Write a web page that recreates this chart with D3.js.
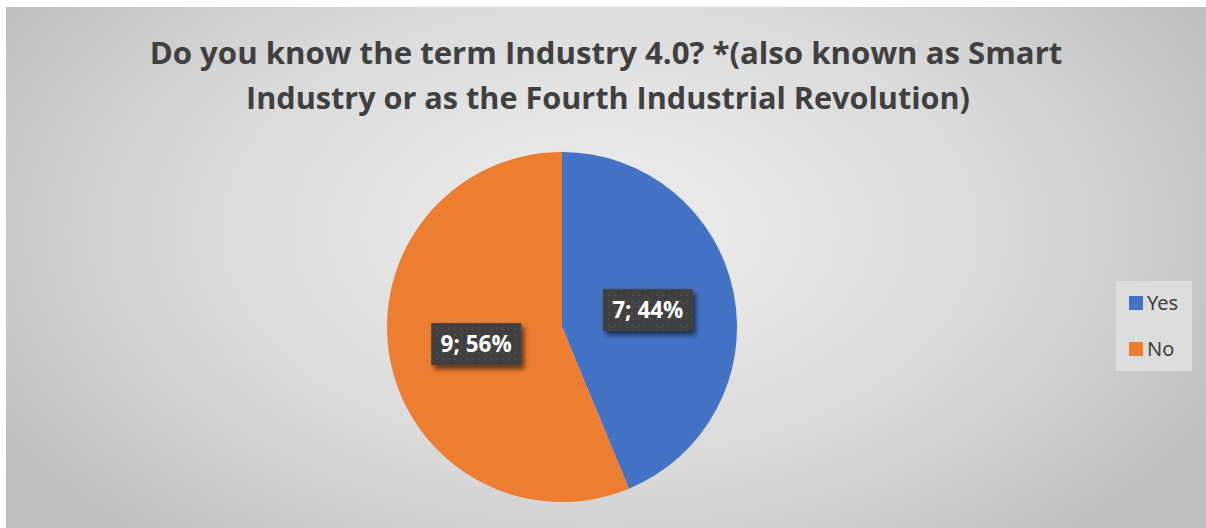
<!DOCTYPE html>
<html>
<head>
<meta charset="utf-8">
<script src="https://cdn.jsdelivr.net/npm/d3@7"></script>
<style>
  html, body { margin: 0; padding: 0; background: #ffffff; }
  svg { display: block; }
</style>
</head>
<body>
<svg id="chart" width="1206" height="528"></svg>
<script>
// Survey answers
const categories = ["Yes", "No"];
const counts = [7, 9];
const colors = ["#4472C4", "#ED7D31"];
const titleLines = [
  "Do you know the term Industry 4.0? *(also known as Smart",
  "Industry or as the Fourth Industrial Revolution)"
];

const W = 1206, H = 528;
const svg = d3.select("#chart");
const defs = svg.append("defs");

// Soft radial backdrop of the chart area
const bg = defs.append("radialGradient").attr("id", "bgGrad")
  .attr("gradientUnits", "userSpaceOnUse")
  .attr("cx", 600).attr("cy", 230).attr("r", 720)
  .attr("gradientTransform", "translate(600,230) scale(1,0.6) translate(-600,-230)");
bg.append("stop").attr("offset", "0%").attr("stop-color", "#efefef");
bg.append("stop").attr("offset", "55%").attr("stop-color", "#dadada");
bg.append("stop").attr("offset", "100%").attr("stop-color", "#bdbdbd");

// Dotted fill for the data label boxes
const pat = defs.append("pattern").attr("id", "dots")
  .attr("patternUnits", "userSpaceOnUse").attr("width", 6).attr("height", 6);
pat.append("rect").attr("width", 6).attr("height", 6).attr("fill", "#3f3f3f");
pat.append("rect").attr("x", 2).attr("y", 2).attr("width", 2).attr("height", 2).attr("fill", "#4d4d4d");

// Drop shadow for the label boxes
const sh = defs.append("filter").attr("id", "shadow")
  .attr("x", "-20%").attr("y", "-20%").attr("width", "150%").attr("height", "170%");
sh.append("feGaussianBlur").attr("in", "SourceAlpha").attr("stdDeviation", 2.5).attr("result", "b");
sh.append("feOffset").attr("in", "b").attr("dx", 3).attr("dy", 4).attr("result", "o");
sh.append("feComponentTransfer").attr("in", "o").attr("result", "s")
  .append("feFuncA").attr("type", "linear").attr("slope", 0.6);
const mg = sh.append("feMerge");
mg.append("feMergeNode").attr("in", "s");
mg.append("feMergeNode").attr("in", "SourceGraphic");

svg.append("rect").attr("x", 6).attr("y", 7).attr("width", W - 6).attr("height", H - 7)
  .attr("fill", "url(#bgGrad)");

// Title, sized so each line spans its target width
const titleFont = "'Open Sans', 'Noto Sans', sans-serif";
const titleWidths = [913, 724];
const titleY = [64, 109];
titleLines.forEach((t, i) => {
  const tx = svg.append("text")
    .attr("x", i === 0 ? 606 : 608).attr("y", titleY[i])
    .attr("text-anchor", "middle")
    .attr("font-family", titleFont).attr("font-weight", 700)
    .attr("font-size", 30).attr("fill", "#404040")
    .text(t);
  const w = tx.node().getComputedTextLength();
  tx.attr("font-size", 30 * titleWidths[i] / w);
});

// Pie
const cx = 562, cy = 327, R = 175;
const total = d3.sum(counts);
const data = categories.map((c, i) => ({ cat: c, value: counts[i], color: colors[i] }));
const pie = d3.pie().value(d => d.value).sort(null);
const arcs = pie(data);
const arc = d3.arc().innerRadius(0).outerRadius(R);

const g = svg.append("g").attr("transform", `translate(${cx},${cy})`);
g.selectAll("path.slice").data(arcs).join("path")
  .attr("class", "slice")
  .attr("d", arc)
  .attr("fill", d => d.data.color);

// Data labels: "value; percent"
const labelArc = d3.arc().innerRadius(R * 0.5).outerRadius(R * 0.5);
const lbl = g.selectAll("g.lbl").data(arcs).join("g").attr("class", "lbl")
  .attr("transform", d => {
    const [x, y] = labelArc.centroid(d);
    return `translate(${x},${y})`;
  });
lbl.append("rect")
  .attr("x", -45).attr("y", -21).attr("width", 90).attr("height", 42)
  .attr("fill", "url(#dots)").attr("filter", "url(#shadow)");
lbl.append("text")
  .attr("text-anchor", "middle").attr("dy", "0.36em")
  .attr("font-family", titleFont).attr("font-weight", 700)
  .attr("font-size", 22.5).attr("fill", "#ffffff")
  .text(d => `${d.data.value}; ${Math.round(d.data.value / total * 100)}%`);

// Legend
const lg = svg.append("g").attr("transform", "translate(1116,281)");
lg.append("rect").attr("width", 76).attr("height", 90).attr("fill", "#dcdcdc");
const items = lg.selectAll("g.item").data(data).join("g").attr("class", "item")
  .attr("transform", (d, i) => `translate(13,${15 + i * 46})`);
items.append("rect").attr("width", 14).attr("height", 14).attr("fill", d => d.color);
items.append("text").attr("x", 18).attr("y", 7).attr("dy", "0.36em")
  .attr("font-family", "'Noto Sans', 'Open Sans', sans-serif")
  .attr("font-size", 20).attr("fill", "#404040")
  .text(d => d.cat);
</script>
</body>
</html>
